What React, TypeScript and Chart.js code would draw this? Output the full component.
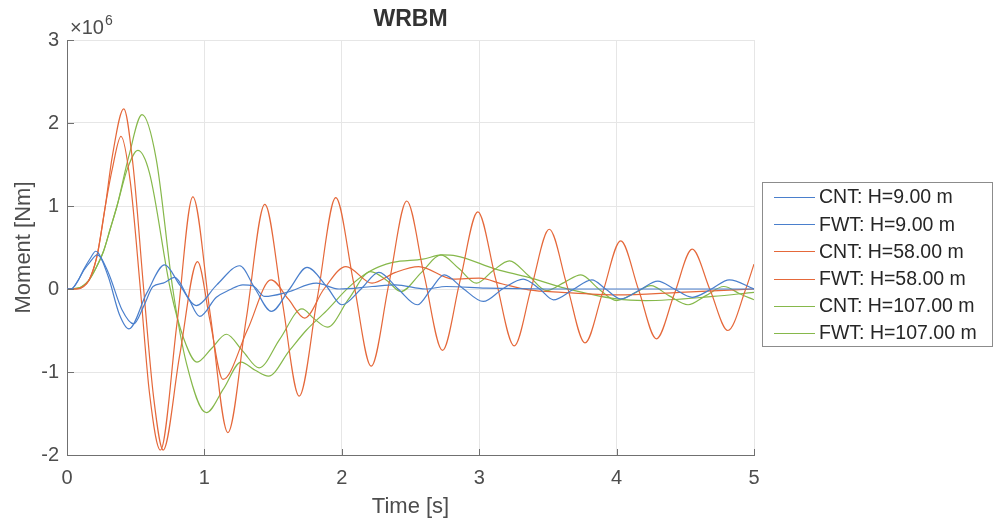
import React, { useEffect, useRef } from "react";
import { Chart, registerables } from "chart.js";
Chart.register(...registerables);

// Time axis ticks [s] and moment ticks [×10^6 Nm]
const timeTicks = [0, 1, 2, 3, 4, 5];
const momentTicks = [-2, -1, 0, 1, 2, 3];

// ---- CNT: H=9.00 m ----
const cnt9T = [0, 0.03, 0.08, 0.12, 0.17, 0.22, 0.3, 0.4, 0.485, 0.56, 0.626, 0.7, 0.784, 0.88, 0.966, 1.087, 1.184, 1.28, 1.35, 1.44, 1.6, 1.815, 1.98, 2.22, 2.39, 2.61, 2.76, 3.05, 3.5, 4.0, 4.5, 5.0];
const cnt9V = [0, 0, 0.1, 0.22, 0.33, 0.41, 0.2, -0.25, -0.42, -0.2, 0.03, 0.07, 0.14, -0.1, -0.33, -0.1, -0.01, 0.05, 0.04, -0.09, -0.04, 0.07, 0.0, 0.03, 0.05, 0.0, 0.03, 0.01, 0.0, 0.0, 0.0, 0.0];

// ---- FWT: H=9.00 m ----
const fwt9T = [0, 0.03, 0.08, 0.12, 0.17, 0.209, 0.3, 0.38, 0.451, 0.58, 0.711, 0.82, 0.94, 1.09, 1.257, 1.37, 1.487, 1.62, 1.747, 1.89, 2.0, 2.14, 2.27, 2.41, 2.55, 2.65, 2.745, 2.88, 3.03, 3.17, 3.32, 3.44, 3.54, 3.68, 3.82, 3.92, 4.03, 4.17, 4.3, 4.42, 4.55, 4.69, 4.82, 5.0];
const fwt9V = [0, 0, 0.1, 0.23, 0.37, 0.455, 0.15, -0.3, -0.48, -0.05, 0.29, 0.05, -0.2, 0.05, 0.28, 0.0, -0.27, 0.0, 0.26, 0.03, -0.19, 0.0, 0.2, 0.0, -0.19, 0.0, 0.17, 0.01, -0.15, 0.0, 0.12, 0.0, -0.13, -0.01, 0.11, 0.0, -0.12, -0.01, 0.095, 0.0, -0.1, 0.0, 0.11, 0.0];

// ---- CNT: H=58.00 m ----
const cnt58T = [0, 0.07, 0.12, 0.158, 0.2, 0.226, 0.279, 0.33, 0.413, 0.48, 0.558, 0.63, 0.7, 0.82, 0.95, 1.04, 1.135, 1.315, 1.485, 1.61, 1.73, 1.87, 2.03, 2.22, 2.39, 2.56, 2.81, 3.0, 3.17, 3.36, 3.6, 4.0, 4.46, 5.0];
const cnt58V = [0, 0, 0.03, 0.1, 0.28, 0.46, 1.0, 1.6, 2.17, 1.5, 0, -1.3, -1.94, -0.8, 0.33, -0.375, -1.09, -0.485, 0.11, -0.12, -0.35, 0.0, 0.27, 0.07, 0.2, 0.27, 0.12, 0.13, 0.06, -0.01, -0.04, -0.07, -0.04, 0.0];

// ---- FWT: H=58.00 m ----
const fwt58T = [0, 0.07, 0.12, 0.158, 0.2, 0.226, 0.279, 0.33, 0.393, 0.46, 0.534, 0.6, 0.68, 0.8, 0.916, 1.043, 1.171, 1.305, 1.44, 1.565, 1.69, 1.823, 1.956, 2.085, 2.214, 2.343, 2.473, 2.6, 2.733, 2.86, 2.99, 3.12, 3.255, 3.38, 3.51, 3.64, 3.77, 3.9, 4.03, 4.16, 4.29, 4.42, 4.55, 4.68, 4.81, 4.94, 5.0];
const fwt58V = [0, 0, 0.03, 0.1, 0.28, 0.46, 1.0, 1.45, 1.84, 1.3, 0, -1.25, -1.94, -0.42, 1.11, -0.31, -1.73, -0.355, 1.02, -0.135, -1.29, -0.095, 1.1, 0.085, -0.93, 0.065, 1.06, 0.16, -0.74, 0.095, 0.93, 0.12, -0.685, 0.02, 0.72, 0.035, -0.65, -0.035, 0.58, -0.01, -0.6, -0.06, 0.48, -0.01, -0.5, 0.0, 0.3];

// ---- CNT: H=107.00 m ----
const cnt107T = [0, 0.08, 0.157, 0.21, 0.267, 0.314, 0.364, 0.45, 0.546, 0.65, 0.77, 0.87, 1.014, 1.14, 1.267, 1.37, 1.466, 1.62, 1.74, 1.89, 2.05, 2.2, 2.37, 2.59, 2.73, 2.83, 3.12, 3.36, 3.6, 4.0, 4.21, 4.7, 5.0];
const cnt107V = [0, 0.01, 0.1, 0.25, 0.46, 0.72, 1.0, 1.6, 2.1, 1.56, 0, -0.9, -1.49, -1.2, -0.88, -0.98, -1.05, -0.74, -0.5, -0.26, 0.02, 0.21, 0.32, 0.36, 0.41, 0.4, 0.24, 0.14, 0.02, -0.12, -0.14, -0.09, -0.04];

// ---- FWT: H=107.00 m ----
const fwt107T = [0, 0.08, 0.157, 0.21, 0.267, 0.314, 0.364, 0.44, 0.515, 0.6, 0.752, 0.85, 0.946, 1.05, 1.16, 1.28, 1.398, 1.55, 1.71, 1.8, 1.895, 2.05, 2.21, 2.33, 2.43, 2.58, 2.72, 2.85, 2.98, 3.1, 3.22, 3.36, 3.49, 3.62, 3.74, 3.87, 4.0, 4.13, 4.25, 4.38, 4.52, 4.65, 4.78, 4.9, 5.0];
const fwt107V = [0, 0.01, 0.1, 0.25, 0.46, 0.72, 1.0, 1.45, 1.67, 1.4, 0, -0.6, -0.88, -0.72, -0.545, -0.75, -0.95, -0.6, -0.24, -0.36, -0.46, -0.12, 0.21, 0.1, -0.03, 0.2, 0.41, 0.25, 0.07, 0.22, 0.34, 0.16, -0.02, 0.08, 0.17, 0.0, -0.14, -0.05, 0.04, -0.08, -0.19, -0.08, 0.03, -0.06, -0.13];

const seriesLabels = ["CNT: H=9.00 m", "FWT: H=9.00 m", "CNT: H=58.00 m", "FWT: H=58.00 m", "CNT: H=107.00 m", "FWT: H=107.00 m"];

const BLUE = "#4a7fcc";
const ORANGE = "#e5683a";
const GREEN = "#86b84b";
const seriesColors = [BLUE, BLUE, ORANGE, ORANGE, GREEN, GREEN];

const FONT = "'Liberation Sans', Arial, Helvetica, sans-serif";
const TEXT = "#4d4d4d";
const AXIS = "#707070";
const GRID = "#e6e6e6";

const toXY = (t: number[], v: number[]) => t.map((x, i) => ({ x, y: v[i] }));

const decor = {
  id: "decor",
  afterDraw(chart: any) {
    const ctx = chart.ctx as CanvasRenderingContext2D;
    const { left, right, top, bottom } = chart.chartArea;
    const xs = chart.scales.x;
    const ys = chart.scales.y;
    ctx.save();
    // inward tick marks
    ctx.strokeStyle = AXIS;
    ctx.lineWidth = 1;
    ctx.beginPath();
    for (const t of timeTicks) {
      const px = Math.round(xs.getPixelForValue(t)) + 0.5;
      ctx.moveTo(px, bottom);
      ctx.lineTo(px, bottom - 6);
    }
    for (const t of momentTicks) {
      const py = Math.round(ys.getPixelForValue(t)) + 0.5;
      ctx.moveTo(left, py);
      ctx.lineTo(left + 7, py);
    }
    ctx.stroke();

    // title
    ctx.fillStyle = "#333333";
    ctx.font = `bold 23px ${FONT}`;
    ctx.textAlign = "center";
    ctx.textBaseline = "middle";
    ctx.fillText("WRBM", (left + right) / 2, 20);

    // exponent
    ctx.fillStyle = TEXT;
    ctx.textAlign = "left";
    ctx.textBaseline = "alphabetic";
    ctx.font = `20px ${FONT}`;
    ctx.fillText("\u00d710", 70, 34);
    ctx.font = `14px ${FONT}`;
    ctx.fillText("6", 105, 25);

    // axis titles
    ctx.font = `22px ${FONT}`;
    ctx.textAlign = "center";
    ctx.textBaseline = "middle";
    ctx.fillText("Time [s]", (left + right) / 2, 507);
    ctx.save();
    ctx.translate(24, (top + bottom) / 2);
    ctx.rotate(-Math.PI / 2);
    ctx.fillText("Moment [Nm]", 0, 0);
    ctx.restore();

    // legend
    const lx = 762.5, ly = 182.5, lw = 230, lh = 164;
    ctx.fillStyle = "#ffffff";
    ctx.fillRect(lx, ly, lw, lh);
    ctx.strokeStyle = "#8c8c8c";
    ctx.lineWidth = 1;
    ctx.strokeRect(lx, ly, lw, lh);
    ctx.font = `19.5px ${FONT}`;
    ctx.textAlign = "left";
    ctx.textBaseline = "middle";
    chart.data.datasets.forEach((ds: any, i: number) => {
      const y = 197 + i * 27.2;
      ctx.strokeStyle = ds.borderColor;
      ctx.lineWidth = 1;
      ctx.beginPath();
      ctx.moveTo(774, Math.round(y) + 0.5);
      ctx.lineTo(815, Math.round(y) + 0.5);
      ctx.stroke();
      ctx.fillStyle = "#262626";
      ctx.fillText(ds.label, 819, y + 1);
    });
    ctx.restore();
  },
};

export default function App() {
  const ref = useRef<HTMLCanvasElement>(null);
  useEffect(() => {
    const series = [
      toXY(cnt9T, cnt9V),
      toXY(fwt9T, fwt9V),
      toXY(cnt58T, cnt58V),
      toXY(fwt58T, fwt58V),
      toXY(cnt107T, cnt107V),
      toXY(fwt107T, fwt107V),
    ];
    const chart = new Chart(ref.current as HTMLCanvasElement, {
      type: "line",
      data: {
        datasets: series.map((d, i) => ({
          label: seriesLabels[i],
          data: d,
          borderColor: seriesColors[i],
          backgroundColor: seriesColors[i],
          borderWidth: 1.2,
          pointRadius: 0,
          fill: false,
          cubicInterpolationMode: "monotone" as const,
        })),
      },
      options: {
        animation: false,
        responsive: false,
        devicePixelRatio: 1,
        layout: { padding: { left: 0, right: 241, top: 40, bottom: 0 } },
        plugins: {
          legend: { display: false },
          title: { display: false },
          tooltip: { enabled: false },
        },
        scales: {
          x: {
            type: "linear",
            min: 0,
            max: 5,
            afterBuildTicks: (s: any) => {
              s.ticks = timeTicks.map((v) => ({ value: v }));
            },
            afterFit: (s: any) => {
              s.height = 67;
            },
            ticks: {
              color: TEXT,
              font: { family: FONT, size: 20 },
              padding: 11,
              maxRotation: 0,
              callback: (v: any) => String(v),
            },
            grid: { color: GRID, drawTicks: false, lineWidth: 1 },
            border: { display: true, color: AXIS, width: 1 },
          },
          y: {
            type: "linear",
            min: -2,
            max: 3,
            afterBuildTicks: (s: any) => {
              s.ticks = momentTicks.map((v) => ({ value: v }));
            },
            afterFit: (s: any) => {
              s.width = 67;
            },
            ticks: {
              color: TEXT,
              font: { family: FONT, size: 20 },
              padding: 8,
              callback: (v: any) => String(v),
            },
            grid: { color: GRID, drawTicks: false, lineWidth: 1 },
            border: { display: true, color: AXIS, width: 1 },
          },
        },
      },
      plugins: [decor],
    });
    return () => chart.destroy();
  }, []);
  return (
    <div style={{ position: "fixed", left: 0, top: 0, width: 995, height: 522, background: "#ffffff" }}>
      <canvas ref={ref} width={995} height={522} style={{ display: "block", width: 995, height: 522 }} />
    </div>
  );
}
